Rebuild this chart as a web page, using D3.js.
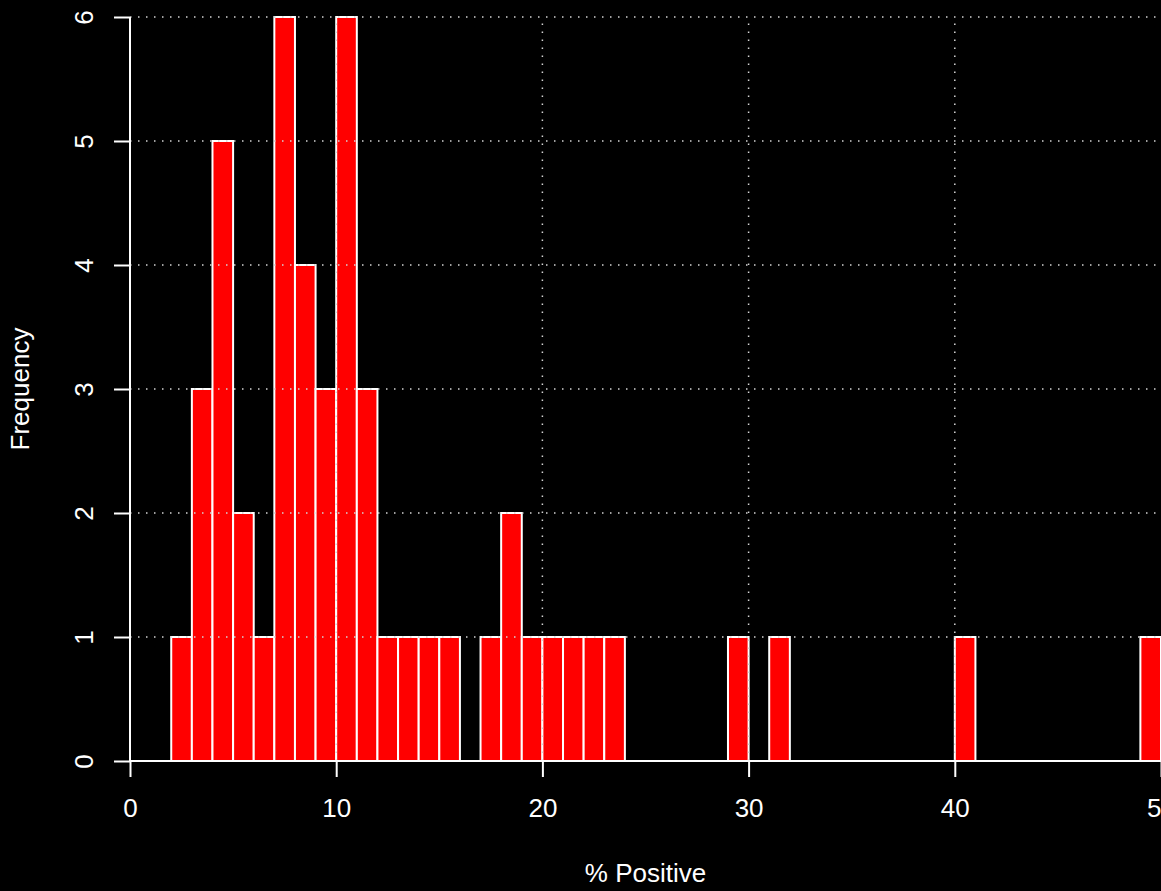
<!DOCTYPE html>
<html><head><meta charset="utf-8">
<script src="https://cdn.jsdelivr.net/npm/d3@7"></script>
<style>html,body{margin:0;padding:0;background:#000;overflow:hidden}</style>
</head><body><svg id="c" width="1161" height="891"></svg>
<script>
const binStarts = [2,3,4,5,6,7,8,9,10,11,12,13,14,15,16,17,18,19,20,21,22,23,24,25,26,27,28,29,30,31,32,33,34,35,36,37,38,39,40,41,42,43,44,45,46,47,48,49];
const counts    = [1,3,5,2,1,6,4,3,6,3,1,1,1,1,0,1,2,1,1,1,1,1,0,0,0,0,0,1,0,1,0,0,0,0,0,0,0,0,1,0,0,0,0,0,0,0,0,1];
const xTicks = [0,10,20,30,40,50];
const yTicks = [0,1,2,3,4,5,6];
const xLabel = "% Positive";
const yLabel = "Frequency";

const svg = d3.select("#c");
const x = d3.scaleLinear().domain([0,50]).range([130,1161]);
const y = d3.scaleLinear().domain([0,6]).range([761,17]);
const font = "Liberation Sans, Arial, sans-serif";
const fs = 26;

svg.append("rect").attr("width",1161).attr("height",891).attr("fill","#000");

// bars
svg.append("g").selectAll("rect").data(binStarts.map((b,i)=>({b,c:counts[i]})).filter(d=>d.c>0))
  .join("rect")
  .attr("x",d=>x(d.b)).attr("width",d=>x(d.b+1)-x(d.b))
  .attr("y",d=>y(d.c)).attr("height",d=>y(0)-y(d.c))
  .attr("fill","#ff0000").attr("stroke","#fff").attr("stroke-width",2);

// grid
const g = svg.append("g").attr("stroke","#d3d3d3").attr("stroke-width",1.5).attr("stroke-dasharray","1.5,6.5");
g.selectAll(".h").data(yTicks.slice(1)).join("line")
  .attr("x1",x(0)).attr("x2",1161).attr("y1",d=>y(d)).attr("y2",d=>y(d));
g.selectAll(".v").data(xTicks.slice(1,5)).join("line")
  .attr("y1",y(0)).attr("y2",y(6)).attr("x1",d=>x(d)).attr("x2",d=>x(d));

// x axis
const xa = svg.append("g").attr("transform",`translate(0,${y(0)})`)
  .call(d3.axisBottom(x).tickValues(xTicks).tickSize(16).tickPadding(22).tickFormat(d3.format("d")));
xa.select(".domain").attr("d",`M${x(0)},0H1161`);
// y axis
const ya = svg.append("g").attr("transform",`translate(${x(0)},0)`)
  .call(d3.axisLeft(y).tickValues(yTicks).tickSize(16).tickFormat(d3.format("d")));
ya.select(".domain").attr("d",`M0,${y(0)}V${y(6)}`);
[xa,ya].forEach(a=>{
  a.attr("font-size",fs).attr("font-family",font);
  a.selectAll("path,line").attr("stroke","#fff").attr("stroke-width",2);
  a.selectAll("text").attr("fill","#fff").attr("font-family",font).attr("font-size",fs);
});
ya.selectAll(".tick text").attr("x",null).attr("dy",null)
  .attr("text-anchor","middle")
  .attr("transform","translate(-37,0) rotate(-90)");

svg.append("text").attr("x",(x(0)+1161)/2).attr("y",882).attr("text-anchor","middle")
  .attr("fill","#fff").attr("font-family",font).attr("font-size",fs).text(xLabel);
svg.append("text").attr("transform",`translate(29,${(y(0)+y(6))/2}) rotate(-90)`).attr("text-anchor","middle")
  .attr("fill","#fff").attr("font-family",font).attr("font-size",fs).text(yLabel);
</script></body></html>
